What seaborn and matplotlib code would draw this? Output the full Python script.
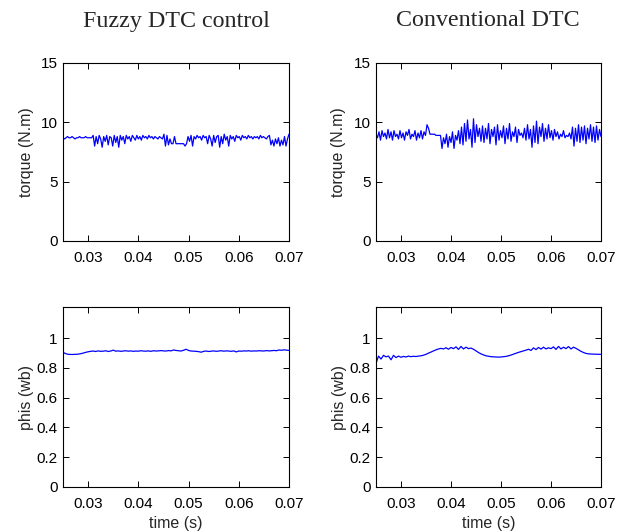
import numpy as np
import pandas as pd
import seaborn as sns
import matplotlib
matplotlib.use('Agg')
import matplotlib.pyplot as plt

# torque (N.m), fuzzy DTC, 151 samples 0.025..0.07 s
torque_fuzzy = [8.7,8.6,8.7,8.8,8.7,8.7,8.8,8.7,8.6,8.7,8.7,8.8,8.7,8.7,8.7,8.8,8.7,8.7,8.7,8.7,
                8.9,8.0,8.8,8.2,8.9,8.6,7.9,8.8,8.4,8.9,8.1,8.8,8.7,8.0,8.9,8.3,8.8,7.9,8.9,8.5,
                8.8,8.2,8.9,8.6,8.8,8.4,8.9,8.7,8.5,8.9,8.6,8.8,8.5,8.9,8.7,8.8,8.6,8.9,8.7,8.8,
                8.6,8.8,8.7,8.6,8.8,8.7,8.6,
                9.0,8.0,8.9,8.1,8.6,
                8.2,8.2,8.8,8.2,8.2,8.2,8.2,8.2,8.2,8.0,8.2,
                8.8,8.4,8.9,8.0,8.8,8.6,8.9,8.7,8.8,8.5,8.9,8.7,8.8,8.2,8.9,8.6,8.0,8.9,8.3,8.8,
                8.9,7.9,8.8,8.2,9.0,8.5,8.8,8.0,8.9,8.6,8.8,8.4,8.9,8.7,8.8,8.5,8.9,8.7,8.8,8.6,
                8.9,8.7,8.8,8.6,8.8,8.7,8.8,8.6,8.9,8.7,8.8,8.7,8.6,8.8,
                8.9,8.1,8.5,8.0,8.6,8.2,8.7,8.0,8.5,8.1,8.8,8.0,8.6,9.0]

# torque (N.m), conventional DTC
torque_conv = [9.0,8.7,9.2,8.5,9.3,8.8,9.1,8.6,9.4,8.7,9.2,8.5,9.3,8.8,9.0,8.6,9.3,8.7,9.1,8.5,
               9.2,8.9,9.4,8.6,9.0,8.8,9.3,8.5,9.1,8.7,9.3,8.6,9.2,8.9,
               9.8,9.5,9.0,9.0,9.0,9.0,8.9,8.9,8.9,8.9,
               7.8,8.7,8.2,9.0,7.9,8.8,8.3,9.2,7.8,8.9,8.5,9.3,8.2,9.6,
               8.1,9.9,8.4,10.2,8.6,9.4,7.9,10.3,8.3,9.8,8.8,9.5,8.4,
               9.7,8.3,9.5,8.6,9.9,8.2,9.4,8.8,9.6,8.1,9.8,8.5,9.3,8.7,9.7,8.2,9.5,8.6,9.9,8.4,
               9.2,8.8,9.6,8.3,9.4,8.9,9.1,8.7,9.5,8.5,9.8,8.6,9.4,7.9,9.7,8.3,10.1,8.2,9.6,8.8,
               9.9,8.4,9.5,8.6,9.8,8.7,9.3,8.5,9.4,8.8,9.2,8.6,9.0,8.8,9.3,8.7,8.9,8.8,9.1,8.6,
               9.6,8.0,9.5,8.4,9.8,8.3,9.6,8.5,9.7,8.2,9.5,8.6,9.8,8.4,9.6,8.3,9.7,8.5,9.4,8.8]

# stator flux (wb), 91 samples 0.025..0.07 s
flux_fuzzy = [0.905,0.897,0.892,0.891,0.891,0.892,
              0.893,0.896,0.900,0.905,0.909,0.912,
              0.914,0.911,0.915,0.912,0.913,0.916,0.911,0.914,0.920,0.913,
              0.915,0.912,0.914,0.916,0.913,0.915,0.912,0.914,0.913,0.916,
              0.914,0.913,0.915,0.912,0.916,0.914,0.915,0.917,0.915,0.914,
              0.917,0.915,0.921,
              0.918,0.916,0.914,0.919,0.926,0.918,0.914,0.913,0.912,0.910,
              0.906,0.912,0.914,0.911,0.913,0.915,0.912,0.914,0.916,0.913,
              0.915,0.914,0.912,0.915,0.908,0.914,0.913,0.915,0.914,0.916,
              0.913,0.915,0.914,0.916,0.915,0.914,0.917,0.915,0.916,0.918,
              0.916,0.921,0.919,0.922,0.920,0.918]

flux_conv = [0.830,0.880,0.860,0.885,0.875,0.880,0.855,0.885,0.870,0.880,
             0.872,0.878,0.874,0.880,0.876,0.879,0.877,0.880,0.882,0.886,
             0.892,0.900,0.907,0.915,0.922,0.928,0.932,0.928,0.936,0.926,
             0.938,0.930,0.942,0.925,0.945,0.928,0.940,0.930,0.934,0.926,
             0.915,0.904,0.895,0.888,0.882,0.879,0.876,0.875,0.874,0.873,
             0.874,0.876,0.878,0.882,0.887,0.893,0.899,0.905,0.910,0.915,
             0.920,0.926,0.918,0.935,0.924,0.938,0.927,0.940,0.928,0.936,
             0.930,0.942,0.925,0.945,0.928,0.940,0.930,0.944,0.928,0.940,
             0.932,0.922,0.912,0.904,0.898,0.895,0.894,0.893,0.893,0.892,0.892]

titles = ['Fuzzy DTC control', 'Conventional DTC']
t0, t1 = 0.025, 0.07

sns.set_style('white')
plt.rcParams['font.family'] = ['Liberation Sans', 'DejaVu Sans']

fig = plt.figure(figsize=(6.32, 5.32), dpi=100)
W, H = 632, 532
def box(x0, y0, x1, y1):
    return [x0 / W, 1 - y1 / H, (x1 - x0) / W, (y1 - y0) / H]

axes = [[fig.add_axes(box(63, 63, 289, 241)), fig.add_axes(box(376, 63, 601, 241))],
        [fig.add_axes(box(63, 307, 289, 487)), fig.add_axes(box(376, 307, 601, 487))]]

series = [[torque_fuzzy, torque_conv], [flux_fuzzy, flux_conv]]
for r in range(2):
    for c in range(2):
        ax = axes[r][c]
        y = series[r][c]
        df = pd.DataFrame({'t': np.linspace(t0, t1, len(y)), 'v': y})
        sns.lineplot(data=df, x='t', y='v', ax=ax, color='#0000ff', lw=0.9)
        ax.set_xlim(t0, t1)
        ax.set_xticks([0.03, 0.04, 0.05, 0.06, 0.07])
        ax.set_xticklabels(['0.03', '0.04', '0.05', '0.06', '0.07'])
        if r == 0:
            ax.set_ylim(0, 15)
            ax.set_yticks([0, 5, 10, 15])
            ax.set_ylabel('torque (N.m)', fontsize=11.5, labelpad=5)
            ax.set_xlabel('')
        else:
            ax.set_ylim(0, 1.21)
            ax.set_yticks([0, 0.2, 0.4, 0.6, 0.8, 1])
            ax.set_yticklabels(['0', '0.2', '0.4', '0.6', '0.8', '1'])
            ax.set_ylabel('phis (wb)', fontsize=11.5, labelpad=2)
            ax.set_xlabel('time (s)', fontsize=11.5, labelpad=3)
        ax.tick_params(direction='in', length=4.5, width=0.7, labelsize=11,
                       top=True, right=True, bottom=True, left=True, pad=4, colors='black')
        ax.tick_params(axis='x', pad=7.5)
        for s in ax.spines.values():
            s.set_color('black')
            s.set_linewidth(0.8)

fig.text(176 / W, 1 - 21 / H, titles[0], ha='center', va='center',
         family=['Liberation Serif'], fontsize=17.3)
fig.text(488 / W, 1 - 21 / H, titles[1], ha='center', va='center',
         family=['Liberation Serif'], fontsize=17.3)

fig.savefig('out.png', dpi=100)
